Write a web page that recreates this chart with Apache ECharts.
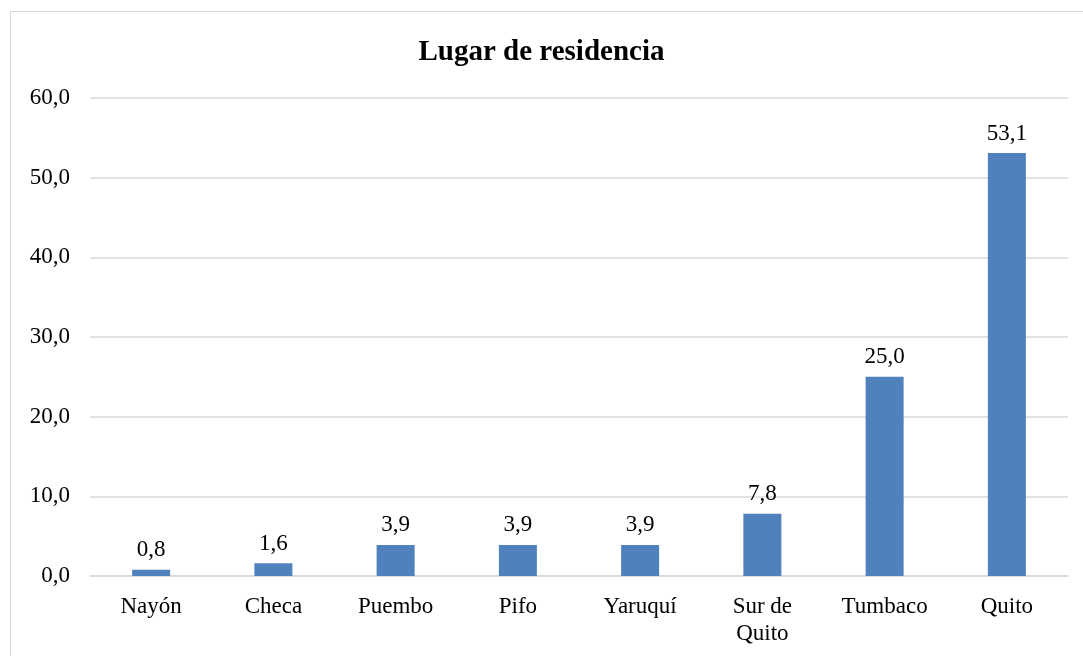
<!DOCTYPE html>
<html>
<head>
<meta charset="utf-8">
<script src="https://cdn.jsdelivr.net/npm/echarts@6/dist/echarts.min.js"></script>
<style>
    html, body { margin: 0; padding: 0; background: #fff; }
    #frame { position: absolute; left: 10px; top: 11px; width: 1090px; height: 660px; border: 1px solid #d9d9d9; box-sizing: border-box; }
    #chart { position: absolute; left: 0; top: 0; width: 1083px; height: 656px; }
</style>
</head>
<body>
<div id="frame"></div>
<div id="chart"></div>
<script>
    // datos del gráfico
    var lugares = ['Nayón', 'Checa', 'Puembo', 'Pifo', 'Yaruquí', 'Sur de\nQuito', 'Tumbaco', 'Quito'];
    var porcentajes = [0.8, 1.6, 3.9, 3.9, 3.9, 7.8, 25.0, 53.1];

    var fuente = '"Liberation Serif", "Times New Roman", serif';
    var coma = function (v) { return Number(v).toFixed(1).replace('.', ','); };

    var chart = echarts.init(document.getElementById('chart'));
    chart.setOption({
        animation: false,
        title: {
            text: 'Lugar de residencia',
            left: 'center',
            top: 33,
            textStyle: { fontFamily: fuente, fontSize: 29, fontWeight: 'bold', color: '#000' }
        },
        grid: { left: 90, right: 15, top: 98, bottom: 80 },
        xAxis: {
            type: 'category',
            data: lugares,
            axisLine: { lineStyle: { color: '#d9d9d9', width: 1.5 } },
            axisTick: { show: false },
            axisLabel: { fontFamily: fuente, fontSize: 23, color: '#000', margin: 17, lineHeight: 27, interval: 0 }
        },
        yAxis: {
            type: 'value',
            min: 0,
            max: 60,
            interval: 10,
            axisLine: { show: false },
            axisTick: { show: false },
            splitLine: { lineStyle: { color: '#d9d9d9', width: 1.5 } },
            axisLabel: { fontFamily: fuente, fontSize: 23, color: '#000', margin: 20, formatter: coma }
        },
        series: [{
            type: 'bar',
            data: porcentajes,
            barWidth: 38,
            itemStyle: { color: '#4F81BD' },
            label: {
                show: true,
                position: 'top',
                distance: 8,
                fontFamily: fuente,
                fontSize: 23,
                color: '#000',
                formatter: function (p) { return coma(p.value); }
            }
        }]
    });
</script>
</body>
</html>
